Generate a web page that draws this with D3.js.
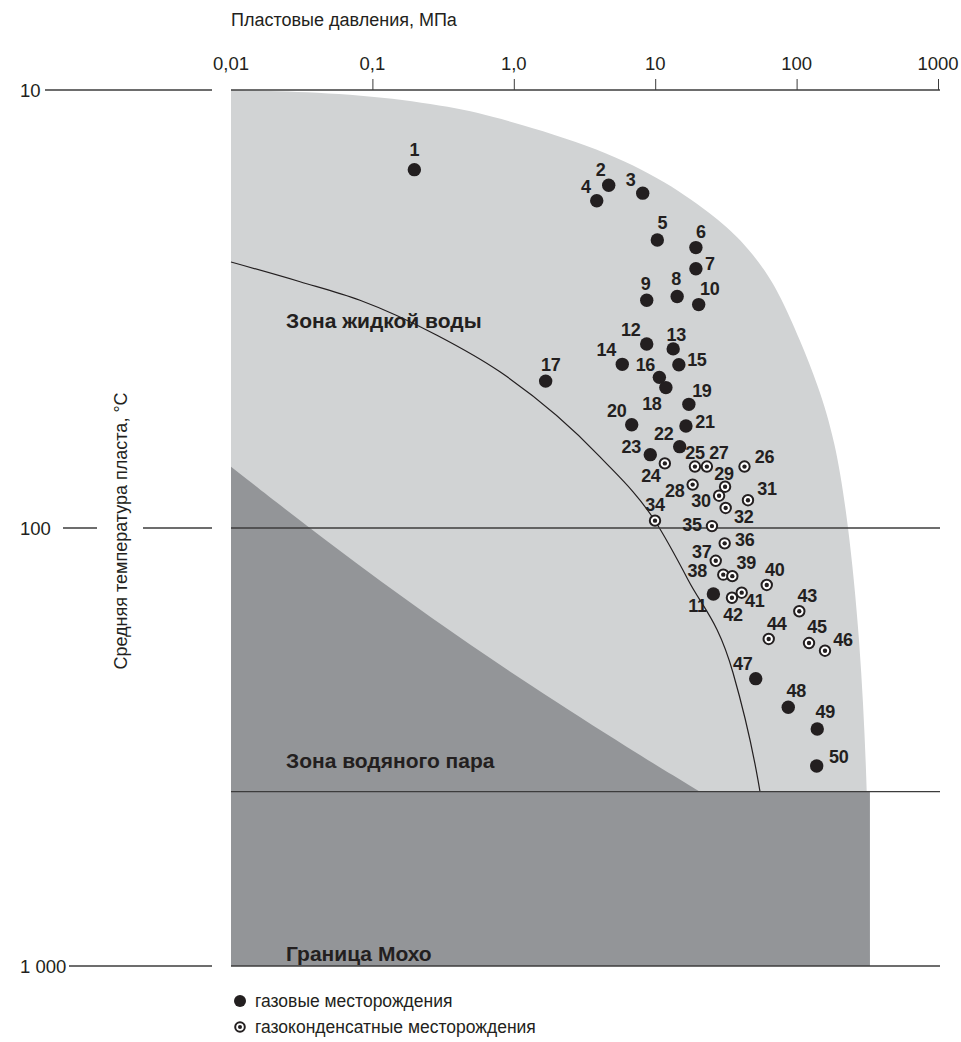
<!DOCTYPE html>
<html>
<head>
<meta charset="utf-8">
<script src="https://cdn.jsdelivr.net/npm/d3@7"></script>
<style>
  html, body { margin: 0; padding: 0; background: #fff; }
  svg { display: block; }
  text { font-family: "Liberation Sans", Arial, sans-serif; fill: #231f20; }
</style>
</head>
<body>
<svg id="chart" width="961" height="1042"></svg>
<script>
// ---------- DATA ----------
const xTicks = [0.01, 0.1, 1, 10, 100, 1000];
const xTickLabels = ["0,01", "0,1", "1,0", "10", "100", "1000"];
const yTicks = [10, 100, 1000];
const yTickLabels = ["10", "100", "1 000"];

// gas fields: [id, pressure MPa, temperature °C]
const gasFields = [
  [1, 0.198, 15.2], [2, 4.69, 16.5], [3, 8.16, 17.2], [4, 3.86, 17.9],
  [5, 10.35, 22.0], [6, 19.4, 22.9], [7, 19.4, 25.6], [8, 14.3, 29.6],
  [9, 8.71, 30.2], [10, 20.3, 30.9], [11, 25.8, 141.5], [12, 8.71, 38.0],
  [13, 13.4, 39.0], [14, 5.85, 42.3], [15, 14.7, 42.4], [16, 10.7, 45.3],
  [17, 1.68, 46.2], [18, 11.9, 47.8], [19, 17.3, 52.2], [20, 6.82, 58.1],
  [21, 16.5, 58.5], [22, 14.9, 65.2], [23, 9.23, 68.0], [47, 51.4, 220.8],
  [48, 87.3, 256.6], [49, 140, 287.7], [50, 138.7, 349.4]
];
// gas-condensate fields: [id, pressure MPa, temperature °C]
const condensateFields = [
  [24, 11.7, 71.2], [25, 19.1, 72.4], [26, 42.8, 72.4], [27, 23.2, 72.4],
  [28, 18.4, 79.6], [29, 31.2, 80.5], [30, 28.3, 84.4], [31, 45.3, 86.4],
  [32, 31.5, 90.0], [34, 9.97, 96.2], [35, 25.2, 99.0], [36, 31.0, 108.4],
  [37, 26.8, 118.8], [38, 30.3, 127.8], [39, 35.1, 128.8], [40, 61.5, 134.9],
  [41, 40.9, 140.5], [42, 34.9, 144.3], [43, 104.5, 154.9], [44, 63.5, 179.2],
  [45, 122.4, 183.1], [46, 158.8, 190.6]
];

// zone boundaries: [pressure MPa, temperature °C]
const stabilityBoundary = [
  [0.01, 10], [0.0226, 10.05], [0.103, 10.3], [0.36, 10.9], [0.895, 11.7],
  [4.07, 13.6], [12.1, 16.2], [27.4, 19.6], [43.2, 22.5], [59.8, 25.8], [76.3, 29.4],
  [105.7, 37.2], [141.7, 47.2], [187, 63], [231, 96], [281, 180], [315, 376], [325, 706], [330, 1000]
];
const steamBoundary = [
  [0.01, 72.5], [0.0509, 109.3], [0.259, 160.5], [1.32, 229.5], [6.74, 321], [20.7, 400]
];
const steamBottomT = 400;
const rightEdgeP = 330;
const liquidCurve = [
  [0.01, 24.7], [0.0308, 27.4], [0.0817, 30.2], [0.286, 36.3], [0.798, 44.0],
  [4.07, 68.8], [9.97, 96.4], [17.1, 131.4], [35.5, 214], [53.3, 376], [55.1, 400]
];
const horizontalLevels = [100, 400, 1000];

const zoneLabels = ["Зона жидкой воды", "Зона водяного пара", "Граница Мохо"];
const xTitle = "Пластовые давления, МПа";
const yTitle = "Средняя температура пласта, °С";
const legendLabels = ["газовые месторождения", "газоконденсатные месторождения"];

// ---------- LAYOUT (label offsets: dx, baseline dy in px) ----------
const labelOffsets = {
  1:[0,-14], 2:[-8,-9], 3:[-12,-7], 4:[-11,-8], 5:[5,-11], 6:[5,-10], 7:[14,1],
  8:[-1,-11], 9:[-1,-10], 10:[11,-10], 11:[-16,18], 12:[-16,-8], 13:[3,-8],
  14:[-16,-8], 15:[18,1], 16:[-14,-6], 17:[5,-10], 18:[-14,22], 19:[13,-7],
  20:[-15,-8], 21:[19,2], 22:[-16,-7], 23:[-19,-2], 24:[-14,19], 25:[0,-8],
  26:[20,-4], 27:[12,-8], 28:[-18,12], 29:[-1,-7], 30:[-18,11], 31:[19,-5],
  32:[18,15], 34:[0,-10], 35:[-20,5], 36:[20,3], 37:[-14,-3], 38:[-26,2],
  39:[14,-7], 40:[8,-9], 41:[13,14], 42:[1,23], 43:[8,-9], 44:[8,-9],
  45:[8,-10], 46:[18,-5], 47:[-13,-9], 48:[8,-10], 49:[8,-11], 50:[22,-3]
};

// ---------- CHART ----------
const svg = d3.select("#chart");
const x = d3.scaleLog().domain([0.01, 1000]).range([231, 938]);
const y = d3.scaleLog().domain([10, 1000]).range([90, 966]);

const LIGHT = "#d1d3d4", DARK = "#939598", INK = "#231f20", LINE = "#3c3c3c";

// light grey zone
const smoothLine = d3.line().x(d => x(d[0])).y(d => y(d[1])).curve(d3.curveBasis);
svg.append("path")
  .attr("d", smoothLine(stabilityBoundary) + `L${x(0.01)},${y(1000)}Z`)
  .attr("fill", LIGHT);

// dark grey zone
svg.append("path")
  .attr("d", `M${x(0.01)},${y(1000)}L` + smoothLine(steamBoundary).slice(1) +
    `L${x(rightEdgeP)},${y(steamBottomT)}L${x(rightEdgeP)},${y(1000)}Z`)
  .attr("fill", DARK);

// liquid water curve
svg.append("path")
  .attr("d", d3.line().x(d => x(d[0])).y(d => y(d[1])).curve(d3.curveMonotoneX)(liquidCurve))
  .attr("fill", "none").attr("stroke", INK).attr("stroke-width", 1.2);

// horizontal lines inside plot
svg.selectAll("line.h").data(horizontalLevels).enter().append("line")
  .attr("x1", x(0.01)).attr("x2", 940)
  .attr("y1", d => y(d)).attr("y2", d => y(d))
  .attr("stroke", LINE).attr("stroke-width", 1.3);

// top axis
const xAxis = d3.axisTop(x).tickValues(xTicks.slice(1)).tickSize(11)
  .tickFormat(d => xTickLabels[xTicks.indexOf(d)]);
const gx = svg.append("g").attr("transform", `translate(0,${y(10)})`).call(xAxis);
gx.select(".domain").attr("d", `M${x(0.01)},0H940`).attr("stroke", LINE).attr("stroke-width", 1.3);
gx.selectAll(".tick line").attr("stroke", LINE).attr("stroke-width", 1);
gx.selectAll(".tick text").remove();
svg.selectAll("text.xt").data(xTicks).enter().append("text")
  .attr("x", d => x(d)).attr("y", 70)
  .attr("text-anchor", "middle").attr("font-size", 18.5)
  .text((d, i) => xTickLabels[i]);

svg.append("text").attr("x", 231).attr("y", 26).attr("font-size", 18).text(xTitle);

// left axis labels and stub lines
const yStubs = [
  [[45, 212]],
  [[63, 97], [143, 212]],
  [[69, 212]]
];
yTicks.forEach((t, i) => {
  svg.append("text").attr("x", 20).attr("y", y(t) + 6.5).attr("font-size", 18.5).text(yTickLabels[i]);
  yStubs[i].forEach(s => {
    svg.append("line").attr("x1", s[0]).attr("x2", s[1]).attr("y1", y(t)).attr("y2", y(t))
      .attr("stroke", LINE).attr("stroke-width", 1.3);
  });
});

svg.append("text")
  .attr("transform", `translate(127,531) rotate(-90)`)
  .attr("text-anchor", "middle").attr("font-size", 18).text(yTitle);

// zone labels
svg.append("text").attr("x", 286).attr("y", 328).attr("font-size", 21).attr("font-weight", "bold").text(zoneLabels[0]);
svg.append("text").attr("x", 286).attr("y", 768).attr("font-size", 21).attr("font-weight", "bold").text(zoneLabels[1]);
svg.append("text").attr("x", 286).attr("y", 961).attr("font-size", 21).attr("font-weight", "bold").text(zoneLabels[2]);

// markers
function drawGas(g, cx, cy, r) {
  g.append("circle").attr("cx", cx).attr("cy", cy).attr("r", r).attr("fill", INK);
}
function drawCond(g, cx, cy, r) {
  g.append("circle").attr("cx", cx).attr("cy", cy).attr("r", r).attr("fill", "#fff")
    .attr("stroke", INK).attr("stroke-width", 2);
  g.append("circle").attr("cx", cx).attr("cy", cy).attr("r", r * 0.42).attr("fill", INK);
}

const gPts = svg.append("g");
condensateFields.forEach(d => drawCond(gPts, x(d[1]), y(d[2]), 5.2));
gasFields.forEach(d => drawGas(gPts, x(d[1]), y(d[2]), 6.7));

const allFields = gasFields.concat(condensateFields);
svg.append("g").selectAll("text").data(allFields).enter().append("text")
  .attr("x", d => x(d[1]) + labelOffsets[d[0]][0])
  .attr("y", d => y(d[2]) + labelOffsets[d[0]][1])
  .attr("text-anchor", "middle")
  .attr("font-size", 18).attr("font-weight", "bold")
  .attr("letter-spacing", -0.3)
  .text(d => d[0]);

// legend
const gl = svg.append("g");
drawGas(gl, 240, 1001, 6);
drawCond(gl, 240, 1027, 4.8);
gl.append("text").attr("x", 255).attr("y", 1007).attr("font-size", 17.5).text(legendLabels[0]);
gl.append("text").attr("x", 255).attr("y", 1033).attr("font-size", 17.5).text(legendLabels[1]);
</script>
</body>
</html>
